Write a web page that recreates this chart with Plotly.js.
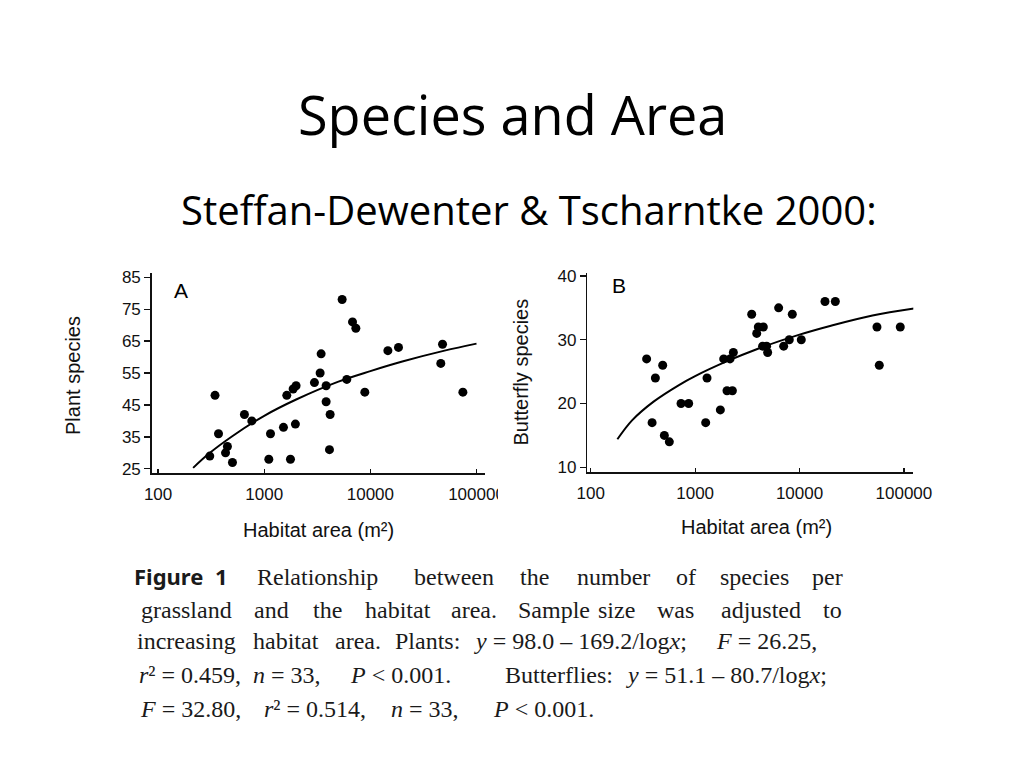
<!DOCTYPE html>
<html><head><meta charset="utf-8">
<script src="https://cdn.plot.ly/plotly-3.0.1.min.js"></script>
<style>html,body{margin:0;padding:0;background:#fff;}#chart{width:1024px;height:768px;}</style>
</head><body><div id="chart"></div>
<script>
// ---- Panel A: plant species vs habitat area ----
const areaA = [307, 344, 371, 432, 450, 502, 651, 764, 1105, 1146, 1518, 1632, 1767, 1872, 1996, 1967, 2973, 3363, 3437, 3830, 3830, 4178, 4120, 5420, 5998, 6790, 7300, 8870, 14620, 18410, 46100, 47840, 74400];
const plantSpecies = [29, 48, 36, 30, 32, 27, 42, 40, 28, 36, 38, 48, 28, 50, 51, 39, 52, 55, 61, 51, 46, 42, 31, 78, 53, 71, 69, 49, 62, 63, 58, 64, 49];
const curveAx = [214, 300, 500, 1000, 2000, 5000, 10000, 20000, 50000, 100000];
const curveAy = [25.3, 29.7, 35.2, 41.6, 46.7, 52.3, 55.6, 58.6, 62.0, 64.2];
const ticksA_y = [25, 35, 45, 55, 65, 75, 85];

// ---- Panel B: butterfly species vs habitat area ----
const areaB = [343, 387, 416, 489, 507, 566, 733, 867, 1262, 1300, 1744, 1878, 2158, 2323, 2020, 2274, 3483, 3890, 4030, 4500, 4430, 4840, 4950, 6310, 7050, 7980, 8530, 10400, 17540, 22030, 55200, 58100, 92300];
const butterflySpecies = [27, 17, 24, 26, 15, 14, 20, 20, 17, 24, 19, 27, 27, 28, 22, 22, 34, 31, 32, 32, 29, 29, 28, 35, 29, 30, 34, 30, 36, 36, 32, 26, 32];
const curveBx = [180, 250, 400, 700, 1000, 2000, 4000, 10000, 20000, 50000, 125000];
const curveBy = [14.4, 17.4, 20.3, 22.9, 24.3, 26.6, 28.6, 30.8, 32.2, 33.8, 34.9];
const ticksB_y = [10, 20, 30, 40];

const ticksX = [100, 1000, 10000, 100000];
const ticksXText = ['100', '1000', '10000', '100000'];

// ---- Text ----
const titleText = 'Species and Area';
const subtitleText = 'Steffan-Dewenter &amp; Tscharntke 2000:';
const captionLines = [
  [['<b>Figure</b>',168.5,'sans'], ['<b>1</b>',221,'sans'], ['Relationship',317.5], ['between',453.5], ['the',534], ['number',613.5], ['of',686], ['species',754.5], ['per',827.5]],
  [['grassland',186], ['and',271.5], ['the',327], ['habitat',398], ['area.',473.5], ['Sample',553.5], ['size',616.5], ['was',675], ['adjusted',761], ['to',832.5]],
  [['increasing',186], ['habitat',286], ['area.',358], ['Plants:',427.5], ['<i>y</i> = 98.0 – 169.2/log<i>x</i>;',580], ['<i>F</i> = 26.25,',766.5]],
  [['<i>r</i>² = 0.459,',190], ['<i>n</i> = 33,',286.7], ['<i>P</i> &lt; 0.001.',400], ['Butterflies:',559], ['<i>y</i> = 51.1 – 80.7/log<i>x</i>;',726.5]],
  [['<i>F</i> = 32.80,',190], ['<i>r</i>² = 0.514,',315], ['<i>n</i> = 33,',425], ['<i>P</i> &lt; 0.001.',543.5]]
];
const captionLineY = [576.6, 609.6, 641.3, 675.3, 708.6];

const W = 1024, H = 768;
const px = x => x / W, py = y => 1 - y / H;
const SANS = 'Liberation Sans, Arial, sans-serif';
const SERIF = 'Liberation Serif, Times New Roman, serif';
const HUMAN = 'Open Sans, Noto Sans, sans-serif';

const traces = [
  {x: curveAx, y: curveAy, xaxis: 'x', yaxis: 'y', mode: 'lines', line: {color: '#000', width: 2, shape: 'spline'}, hoverinfo: 'skip'},
  {x: areaA, y: plantSpecies, xaxis: 'x', yaxis: 'y', mode: 'markers', marker: {color: '#000', size: 9}},
  {x: curveBx, y: curveBy, xaxis: 'x2', yaxis: 'y2', mode: 'lines', line: {color: '#000', width: 2, shape: 'spline'}, hoverinfo: 'skip'},
  {x: areaB, y: butterflySpecies, xaxis: 'x2', yaxis: 'y2', mode: 'markers', marker: {color: '#000', size: 9}}
];

function xAxis(domain, range, anchor) {
  return {type: 'log', domain: domain, range: range, anchor: anchor, showline: true, linecolor: '#111', linewidth: 1.5,
    ticks: 'inside', ticklen: 4, tickwidth: 1.2, tickcolor: '#111', tickvals: ticksX, ticktext: ticksXText,
    showgrid: false, zeroline: false, tickfont: {family: SANS, size: 17, color: '#111'}, ticklabelstandoff: 5,
    automargin: false, fixedrange: true};
}
function yAxis(domain, range, anchor, vals) {
  return {domain: domain, range: range, anchor: anchor, showline: true, linecolor: '#111', linewidth: 1.5,
    ticks: 'outside', ticklen: 6, tickwidth: 1.2, tickcolor: '#111', tickvals: vals,
    showgrid: false, zeroline: false, tickfont: {family: SANS, size: 17, color: '#111'},
    automargin: false, fixedrange: true};
}

const annotations = [];
function addText(text, x, y, size, family, opts) {
  annotations.push(Object.assign({text: text, xref: 'paper', yref: 'paper', x: px(x), y: py(y), showarrow: false,
    xanchor: 'center', yanchor: 'middle', font: {family: family, size: size, color: '#000'}}, opts || {}));
}
addText(titleText, 512, 113.5, 54, HUMAN);
addText(subtitleText, 529, 209, 40, HUMAN);
addText('A', 180.5, 290, 21, SANS);
addText('B', 619, 286, 21, SANS);
addText('Habitat area (m²)', 318, 530, 20, SANS, {font: {family: SANS, size: 20, color: '#111'}});
addText('Habitat area (m²)', 756.5, 527, 20, SANS, {font: {family: SANS, size: 20, color: '#111'}});
addText('Plant species', 73, 376, 20, SANS, {textangle: -90, font: {family: SANS, size: 20, color: '#111'}});
addText('Butterfly species', 520, 372.5, 20, SANS, {textangle: -90, font: {family: SANS, size: 20, color: '#111'}});
captionLines.forEach((line, i) => {
  line.forEach(w => {
    const sans = w[2] === 'sans';
    addText(w[0], w[1], captionLineY[i] + (sans ? -1 : 0), sans ? 22 : 24, sans ? 'Noto Sans, Open Sans, sans-serif' : SERIF,
      {font: {family: sans ? 'Noto Sans, Open Sans, sans-serif' : SERIF, size: sans ? 22 : 24, color: '#1a1a1a'}});
  });
});

const layout = {
  width: W, height: H, margin: {l: 0, r: 0, t: 0, b: 0},
  paper_bgcolor: '#fff', plot_bgcolor: '#fff', showlegend: false,
  xaxis: xAxis([px(151.7), px(485)], [1.94, 5.08], 'y'),
  yaxis: yAxis([py(473), py(273)], [23.7, 86.3], 'x', ticksA_y),
  xaxis2: xAxis([px(587.3), px(913.3)], [1.967, 5.09], 'y2'),
  yaxis2: yAxis([py(472.3), py(273.3)], [9.22, 40.42], 'x2', ticksB_y),
  annotations: annotations,
  shapes: [{type: 'rect', xref: 'paper', yref: 'paper', x0: px(498), x1: px(520), y0: py(503), y1: py(479),
    fillcolor: '#fff', line: {width: 0}, layer: 'above'}]
};

Plotly.newPlot('chart', traces, layout, {displayModeBar: false, staticPlot: true});
</script>
</body></html>
